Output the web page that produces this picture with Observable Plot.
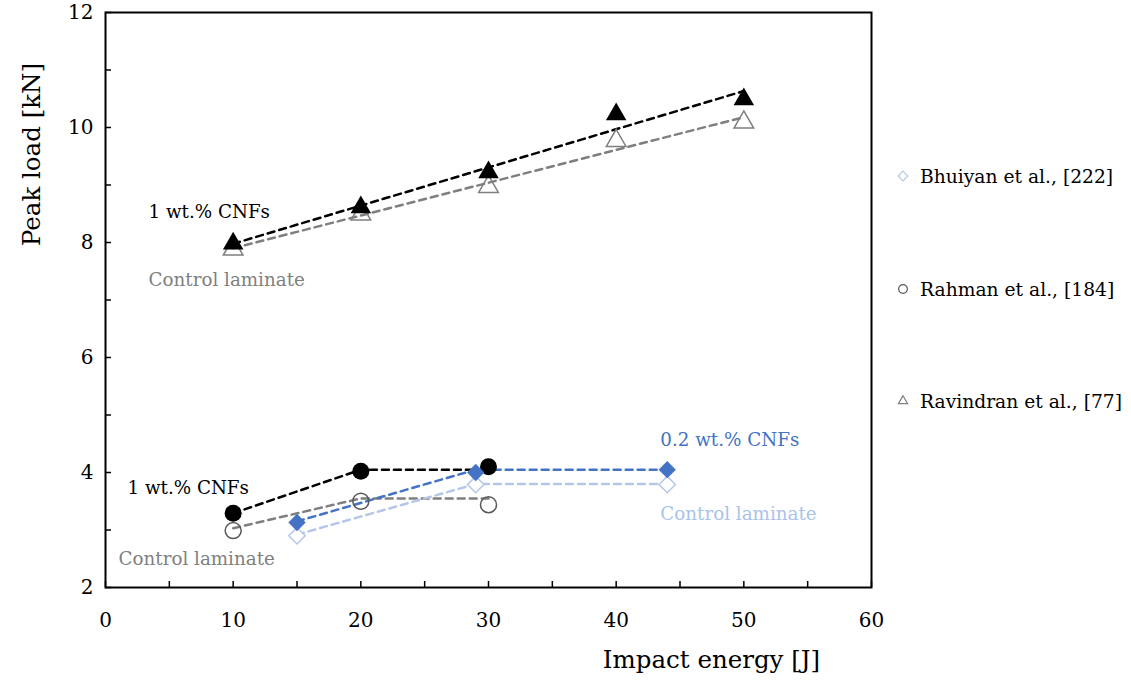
<!DOCTYPE html>
<html><head><meta charset="utf-8">
<script src="https://cdn.jsdelivr.net/npm/d3@7"></script>
<script src="https://cdn.jsdelivr.net/npm/@observablehq/plot@0.6"></script>
<style>
body{margin:0;background:#fff;}
#wrap{position:relative;width:1131px;height:681px;font-family:"DejaVu Serif",serif;}
.item{position:absolute;left:896px;height:20px;display:flex;align-items:center;white-space:nowrap;font-size:18.7px;color:#000;}
.item svg{margin-right:10px;}
</style></head><body><div id="wrap"></div>
<script>
// ---- data ----
const energyRavindran = [10, 20, 30, 40, 50];
const ravindranCNF = [7.98, 8.61, 9.22, 10.23, 10.49];
const ravindranControl = [7.88, 8.49, 8.97, 9.77, 10.09];

const energyRahman = [10, 20, 30];
const rahmanCNF = [3.29, 4.02, 4.10];
const rahmanControl = [2.99, 3.50, 3.44];
const rahmanCNFTrend = [3.29, 4.05, 4.05];
const rahmanControlTrend = [3.03, 3.55, 3.55];

const energyBhuiyan = [15, 29, 44];
const bhuiyanCNF = [3.13, 4.00, 4.05];
const bhuiyanControl = [2.90, 3.79, 3.79];
const bhuiyanCNFTrend = [3.15, 4.05, 4.05];
const bhuiyanControlTrend = [2.92, 3.80, 3.80];

const xTicks = [0, 5, 10, 15, 20, 25, 30, 35, 40, 45, 50, 55, 60];
const yTicks = [2, 3, 4, 5, 6, 7, 8, 9, 10, 11, 12];

const legendNames = ["Bhuiyan et al., [222]", "Rahman et al., [184]", "Ravindran et al., [77]"];

const annotations = [
  {text: "1 wt.% CNFs", x: 3.37, y: 8.52, color: "#000000"},
  {text: "Control laminate", x: 3.37, y: 7.34, color: "#808080"},
  {text: "1 wt.% CNFs", x: 1.72, y: 3.72, color: "#000000"},
  {text: "Control laminate", x: 1.02, y: 2.50, color: "#808080"},
  {text: "0.2 wt.% CNFs", x: 43.46, y: 4.56, color: "#4472C4"},
  {text: "Control laminate", x: 43.46, y: 3.27, color: "#A9C3EA"}
];

// ---- colours ----
const BLACK = "#000000", GRAY = "#7F7F7F", DARKGRAY = "#595959", BLUE = "#4472C4", LIGHTBLUE = "#B4C7E7";

const pts = (xs, ys) => xs.map((x, i) => ({x, y: ys[i]}));

const dash = "7,5";
const chart = Plot.plot({
  width: 1131,
  height: 681,
  marginLeft: 105,
  marginRight: 260,
  marginTop: 12,
  marginBottom: 94,
  style: {fontFamily: "DejaVu Serif, serif", background: "white"},
  x: {domain: [0, 60]},
  y: {domain: [2, 12]},
  marks: [
    Plot.axisX(xTicks, {tickSize: -6, tickPadding: 31, strokeWidth: 1.5, fontSize: 20, tickFormat: d => d % 10 === 0 ? String(d) : "", label: null}),
    Plot.axisY(yTicks, {tickSize: -6, tickPadding: 18, strokeWidth: 1.5, fontSize: 20, tickFormat: d => d % 2 === 0 ? String(d) : "", label: null}),
    Plot.frame({stroke: "black", strokeWidth: 2}),
    // Ravindran trend lines
    Plot.linearRegressionY(pts(energyRavindran, ravindranControl), {x: "x", y: "y", stroke: GRAY, strokeWidth: 2.5, strokeDasharray: dash, ci: 0, strokeOpacity: 1}),
    Plot.linearRegressionY(pts(energyRavindran, ravindranCNF), {x: "x", y: "y", stroke: BLACK, strokeWidth: 2.5, strokeDasharray: dash, ci: 0, strokeOpacity: 1}),
    // Rahman lines
    Plot.line(pts(energyRahman, rahmanControlTrend), {x: "x", y: "y", stroke: GRAY, strokeWidth: 2.5, strokeDasharray: dash}),
    Plot.line(pts(energyRahman, rahmanCNFTrend), {x: "x", y: "y", stroke: BLACK, strokeWidth: 2.5, strokeDasharray: dash}),
    // Bhuiyan lines
    Plot.line(pts(energyBhuiyan, bhuiyanControlTrend), {x: "x", y: "y", stroke: LIGHTBLUE, strokeWidth: 2.5, strokeDasharray: dash}),
    Plot.line(pts(energyBhuiyan, bhuiyanCNFTrend), {x: "x", y: "y", stroke: BLUE, strokeWidth: 2.5, strokeDasharray: dash}),
    // markers
    Plot.dot(pts(energyRavindran, ravindranControl), {x: "x", y: "y", symbol: "triangle", r: 7.3, stroke: GRAY, strokeWidth: 1.5, fill: "white", fillOpacity: 0}),
    Plot.dot(pts(energyRavindran, ravindranCNF), {x: "x", y: "y", symbol: "triangle", r: 7.6, fill: BLACK, stroke: "none"}),
    Plot.dot(pts(energyRahman, rahmanControl), {x: "x", y: "y", symbol: "circle", r: 8, stroke: DARKGRAY, strokeWidth: 1.5, fill: "none"}),
    Plot.dot(pts(energyRahman, rahmanCNF), {x: "x", y: "y", symbol: "circle", r: 8.5, fill: BLACK, stroke: "none"}),
    Plot.dot(pts(energyBhuiyan, bhuiyanControl), {x: "x", y: "y", symbol: "diamond2", r: 7.4, stroke: LIGHTBLUE, strokeWidth: 1.5, fill: "white"}),
    Plot.dot(pts(energyBhuiyan, bhuiyanCNF), {x: "x", y: "y", symbol: "diamond2", r: 7.8, fill: BLUE, stroke: "none"}),
    // annotations
    Plot.text(annotations, {x: "x", y: "y", text: "text", fill: "color", textAnchor: "start", lineAnchor: "middle", fontSize: 18.3}),
    // axis titles
    Plot.text(["Peak load [kN]"], {frameAnchor: "top-left", text: d => d, rotate: -90, dx: -73, dy: 142, textAnchor: "middle", lineAnchor: "middle", fontSize: 24.5, fill: "black"}),
    Plot.text(["Impact energy [J]"], {frameAnchor: "bottom-left", text: d => d, dx: 606, dy: 73, textAnchor: "middle", lineAnchor: "middle", fontSize: 24.5, fill: "black"})
  ]
});
const wrap = document.getElementById("wrap");
wrap.appendChild(chart);

// legend
const legendSymbols = [
  {sym: d3.symbolDiamond2, color: LIGHTBLUE, top: 166},
  {sym: d3.symbolCircle, color: DARKGRAY, top: 279},
  {sym: d3.symbolTriangle2, color: GRAY, top: 391}
];
legendNames.forEach((name, i) => {
  const s = legendSymbols[i];
  const div = document.createElement("div");
  div.className = "item";
  div.style.top = s.top + "px";
  const path = d3.symbol(s.sym, 60)();
  div.innerHTML = `<svg width="14" height="14" viewBox="-7 -7 14 14"><path d="${path}" fill="white" stroke="${s.color}" stroke-width="1.2"/></svg><span>${name}</span>`;
  wrap.appendChild(div);
});
</script>
</body></html>
